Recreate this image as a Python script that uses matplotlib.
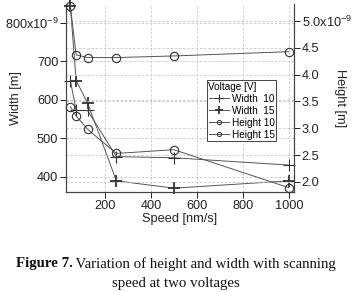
import matplotlib
matplotlib.use("Agg")
import matplotlib.pyplot as plt
from matplotlib.lines import Line2D
from matplotlib.ticker import FixedLocator, FuncFormatter

# ---------------------------------------------------------
# DATA
# ---------------------------------------------------------
speed = [50, 75, 125, 250, 500, 1000]            # nm/s

width_10 = [650, 572, 572, 452, 449, 430]       # nm
width_15 = [844, 650, 591, 389, 370, 389]       # nm
height_10 = [3.40, 3.23, 2.98, 2.53, 2.60, 1.89]  # nm
height_15 = [5.28, 4.37, 4.32, 4.32, 4.35, 4.43]  # nm

x_ticks = [200, 400, 600, 800, 1000]
w_ticks = [400, 500, 600, 700, 800]
h_ticks = [2.0, 2.5, 3.0, 3.5, 4.0, 4.5, 5.0]

legend_title = "Voltage [V]"
legend_labels = ["Width  10", "Width  15", "Height 10", "Height 15"]

caption_bold = "Figure 7."
caption_rest = " Variation of height and width with scanning"
caption_line2 = "speed at two voltages"

# ---------------------------------------------------------
# STYLE
# ---------------------------------------------------------
plt.rcParams["font.family"] = ["Liberation Sans", "DejaVu Sans"]
plt.rcParams["mathtext.fontset"] = "custom"
plt.rcParams["mathtext.rm"] = "Liberation Sans"
TXT = "#222222"
LINE = "#555555"
MK = "#333333"
GRID = "#c8c8c8"
FS = 9.2

fig = plt.figure(figsize=(3.52, 2.92), dpi=100)
ax = fig.add_axes([66 / 352, 1 - 192 / 292, 228 / 352, 188 / 292])
ax2 = ax.twinx()

ax.set_xlim(31, 1022)
ax.set_ylim(360, 849)
ax2.set_ylim(1.81, 5.32)

# width series on left axis
ax.plot(speed, width_10, color=LINE, lw=0.7, marker="+", ms=8, mew=0.8,
        mec=MK, clip_on=False, zorder=3)
ax.plot(speed, width_15, color=LINE, lw=0.7, marker="+", ms=8, mew=1.3,
        mec=MK, clip_on=False, zorder=3)
# height series on right axis
ax2.plot(speed, height_10, color=LINE, lw=0.7, marker="o", ms=6, mew=0.8,
         mfc="none", mec=MK, clip_on=False, zorder=3)
ax2.plot(speed, height_15, color=LINE, lw=0.7, marker="o", ms=6, mew=0.8,
         mfc="none", mec=MK, clip_on=False, zorder=3)

# ticks and labels
def w_fmt(v, pos):
    if v == w_ticks[-1]:
        return "%dx10$^{-9}$" % v
    return "%d" % v


def h_fmt(v, pos):
    if v == h_ticks[-1]:
        return "%.1fx10$^{-9}$" % v
    return "%.1f" % v


ax.xaxis.set_major_locator(FixedLocator(x_ticks))
ax.yaxis.set_major_locator(FixedLocator(w_ticks))
ax.yaxis.set_major_formatter(FuncFormatter(w_fmt))
ax2.yaxis.set_major_locator(FixedLocator(h_ticks))
ax2.yaxis.set_major_formatter(FuncFormatter(h_fmt))

for a in (ax, ax2):
    a.tick_params(direction="out", length=4, width=0.7, colors=TXT,
                  labelsize=FS, pad=1.5)
    for s in a.spines.values():
        s.set_color("#444444")
        s.set_linewidth(0.8)
    a.spines["top"].set_visible(False)

ax.grid(True, axis="both", color=GRID, ls=(0, (3, 2)), lw=0.6)
ax2.grid(True, axis="y", color=GRID, ls=(0, (3, 2)), lw=0.6)
ax.set_axisbelow(True)
ax2.set_axisbelow(True)

ax.set_xlabel("Speed [nm/s]", fontsize=FS, color=TXT, labelpad=1)
ax.set_ylabel("Width [m]", fontsize=FS, color=TXT, va="center")
ax.yaxis.set_label_coords(-50 / 228, 0.5)
ax2.set_ylabel("Height [m]", fontsize=FS, color=TXT, rotation=-90,
               va="center")
ax2.yaxis.set_label_coords(274 / 228, 0.5)

# legend
handles = [
    Line2D([], [], color=LINE, lw=0.7, marker="+", ms=6, mew=0.8, mec=MK),
    Line2D([], [], color=LINE, lw=0.7, marker="+", ms=6, mew=1.3, mec=MK),
    Line2D([], [], color=LINE, lw=0.7, marker="o", ms=3, mew=0.7,
           mfc="none", mec=MK),
    Line2D([], [], color=LINE, lw=0.7, marker="o", ms=3, mew=0.7,
           mfc="none", mec=MK),
]
leg = ax2.legend(handles, legend_labels, title=legend_title,
                 loc="upper left", bbox_to_anchor=(141 / 228, 112 / 188),
                 fontsize=7.2, title_fontsize=7.2, frameon=True,
                 fancybox=False, framealpha=1, edgecolor="#444444",
                 borderpad=0.15, labelspacing=0.2, handlelength=2.0,
                 handletextpad=0.3, borderaxespad=0)
leg._legend_box.align = "left"
leg.get_frame().set_linewidth(0.7)

# caption
r = fig.canvas.get_renderer()
cap_kw = dict(fontsize=10.7, family="Liberation Serif", color="#111111",
              va="center")
t1 = fig.text(0, 1 - 264 / 292, caption_bold, weight="bold", **cap_kw)
t2 = fig.text(0, 1 - 264 / 292, caption_rest, **cap_kw)
w1 = t1.get_window_extent(r).width
w2 = t2.get_window_extent(r).width
x0 = (352 - (w1 + w2)) / 2
t1.set_x(x0 / 352)
t2.set_x((x0 + w1) / 352)
fig.text(0.5, 1 - 283 / 292, caption_line2, ha="center", **cap_kw)

fig.savefig("out.png", dpi=100)
